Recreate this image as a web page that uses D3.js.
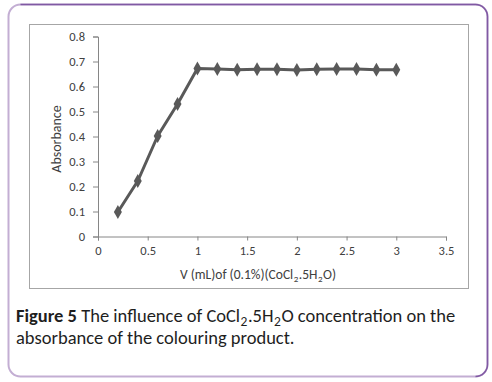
<!DOCTYPE html>
<html>
<head>
<meta charset="utf-8">
<script src="https://cdn.jsdelivr.net/npm/d3@7"></script>
<style>
  body { margin: 0; background: #fff; }
  svg { display: block; }
</style>
</head>
<body>
<svg width="492" height="382"></svg>
<script>
// volume of CoCl2 solution (mL) and absorbance
var volume = [0.2, 0.4, 0.6, 0.8, 1.0, 1.2, 1.4, 1.6, 1.8, 2.0, 2.2, 2.4, 2.6, 2.8, 3.0];
var absorbance = [0.098, 0.222, 0.402, 0.530, 0.672, 0.670, 0.667, 0.669, 0.669, 0.666, 0.669, 0.670, 0.670, 0.667, 0.667];
var xTicks = [0, 0.5, 1, 1.5, 2, 2.5, 3, 3.5];
var yTicks = [0, 0.1, 0.2, 0.3, 0.4, 0.5, 0.6, 0.7, 0.8];

var svg = d3.select("svg");
var font = "Carlito, Calibri, Lato, 'Open Sans', sans-serif";

// outer rounded box (lighter on left/bottom, darker on top/right)
svg.append("rect")
    .attr("x", 8.5).attr("y", 4.5)
    .attr("width", 479).attr("height", 372)
    .attr("rx", 12).attr("ry", 12)
    .attr("fill", "#fff")
    .attr("stroke", "#c3aed3")
    .attr("stroke-width", 2);
svg.append("path")
    .attr("d", "M20.5,4.5 H475.5 A12,12 0 0 1 487.5,16.5 V364.5 A12,12 0 0 1 475.5,376.5")
    .attr("fill", "none")
    .attr("stroke", "#8059a3")
    .attr("stroke-width", 1.5);

// chart frame
svg.append("rect")
    .attr("x", 29.5).attr("y", 24.5)
    .attr("width", 439).attr("height", 264)
    .attr("fill", "#fff")
    .attr("stroke", "#a6a6a6")
    .attr("stroke-width", 1);

var x = d3.scaleLinear().domain([0, 3.5]).range([98, 446]);
var y = d3.scaleLinear().domain([0, 0.8]).range([236.5, 36.5]);

var xAxis = svg.append("g")
    .attr("transform", "translate(0," + y(0) + ")")
    .call(d3.axisBottom(x).tickValues(xTicks).tickSize(4).tickPadding(6)
        .tickFormat(function(d) { return d; }));

var yAxis = svg.append("g")
    .attr("transform", "translate(" + x(0) + ",0)")
    .call(d3.axisLeft(y).tickValues(yTicks).tickSize(5).tickPadding(8)
        .tickFormat(function(d) { return d; }));

[xAxis, yAxis].forEach(function(g) {
  g.select(".domain").attr("stroke", "#868686");
  g.selectAll(".tick line").attr("stroke", "#868686");
  g.selectAll(".tick text")
      .attr("fill", "#404040")
      .style("font-family", font)
      .style("font-size", "12.5px");
});

// series
var pts = volume.map(function(v, i) { return [v, absorbance[i]]; });

svg.append("path")
    .datum(pts)
    .attr("fill", "none")
    .attr("stroke", "#595959")
    .attr("stroke-width", 3)
    .attr("stroke-linejoin", "round")
    .attr("d", d3.line()
        .x(function(d) { return x(d[0]); })
        .y(function(d) { return y(d[1]); }));

svg.append("g")
  .selectAll("path")
  .data(pts)
  .enter().append("path")
    .attr("transform", function(d) { return "translate(" + x(d[0]) + "," + y(d[1]) + ")"; })
    .attr("d", d3.symbol().type(d3.symbolDiamond).size(55))
    .attr("fill", "#595959");

// axis titles
svg.append("text")
    .attr("x", 258).attr("y", 279)
    .attr("text-anchor", "middle")
    .attr("fill", "#404040")
    .style("font-family", font)
    .style("font-size", "13.5px")
    .html('V (mL)of (0.1%)(CoCl<tspan dx="0.5" dy="3" font-size="9">2</tspan><tspan dx="0.5" dy="-3">.5H</tspan><tspan dx="0.5" dy="3" font-size="9">2</tspan><tspan dx="0.5" dy="-3">O)</tspan>');

svg.append("text")
    .attr("transform", "translate(61,139) rotate(-90)")
    .attr("text-anchor", "middle")
    .attr("fill", "#404040")
    .style("font-family", font)
    .style("font-size", "14px")
    .text("Absorbance");

// caption
var cap = svg.append("text")
    .attr("x", 16)
    .attr("fill", "#1e1e1e")
    .style("font-family", font)
    .style("font-size", "18.5px");

cap.append("tspan").attr("x", 16).attr("y", 322)
    .html('<tspan font-weight="bold">Figure 5</tspan> The influence of CoCl<tspan dx="0.5" dy="3.5" font-size="13.5">2</tspan><tspan dx="0.5" dy="-3.5">.5H</tspan><tspan dx="0.5" dy="3.5" font-size="13.5">2</tspan><tspan dx="0.5" dy="-3.5">O concentration on the</tspan>');
cap.append("tspan").attr("x", 16).attr("y", 344)
    .text("absorbance of the colouring product.");
</script>
</body>
</html>
